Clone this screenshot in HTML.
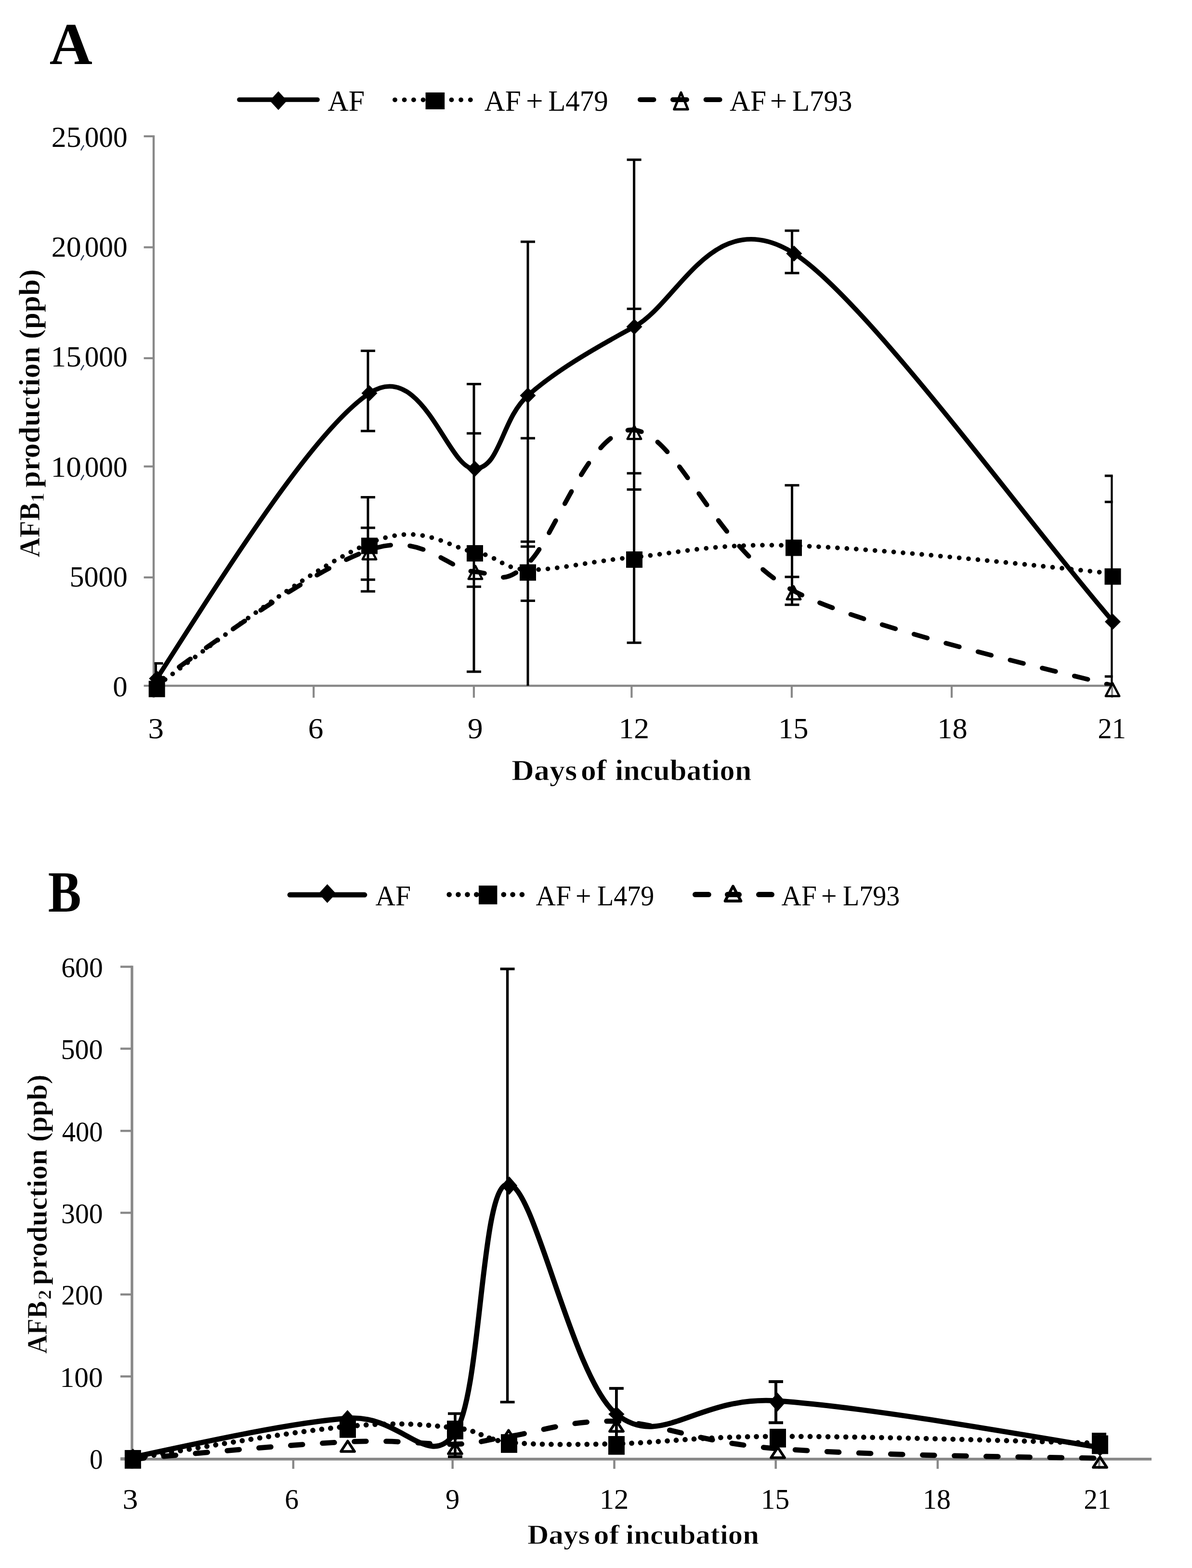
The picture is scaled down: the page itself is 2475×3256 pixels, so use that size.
<!DOCTYPE html><html><head><meta charset="utf-8"><style>html,body{margin:0;padding:0;background:#fff;overflow:hidden;width:2475px;height:3256px;}svg{display:block;}text{font-family:"Liberation Serif",serif;}</style></head><body>
<svg width="2475" height="3256" viewBox="0 0 2475 3256">
<rect width="2475" height="3256" fill="#fff"/>
<defs><clipPath id="clipA"><rect x="320.5" y="200" width="1990" height="1224"/></clipPath><clipPath id="clipB"><rect x="275" y="1950" width="2200" height="1079"/></clipPath></defs>
<text x="102.80" y="133.00" font-size="122.7" font-weight="bold" textLength="89.11" lengthAdjust="spacingAndGlyphs" fill="#000">A</text>
<line x1="497" y1="207" x2="659" y2="207" stroke="#000" stroke-width="9.7" fill="none" stroke-linecap="round" stroke-linejoin="round"/>
<path d="M578,189.5 L596.0,209 L578,228.5 L560.0,209 Z" fill="#000"/>
<text x="680.41" y="230.00" font-size="61.4" textLength="76.76" lengthAdjust="spacingAndGlyphs" fill="#000">AF</text>
<circle cx="820" cy="207.3" r="4.9" fill="#000"/>
<circle cx="839.6" cy="207.3" r="4.9" fill="#000"/>
<circle cx="858.9" cy="207.3" r="4.9" fill="#000"/>
<circle cx="878.6" cy="207.3" r="4.9" fill="#000"/>
<circle cx="937.5" cy="207.3" r="4.9" fill="#000"/>
<circle cx="957.1" cy="207.3" r="4.9" fill="#000"/>
<circle cx="976.8" cy="207.3" r="4.9" fill="#000"/>
<rect x="883.6" y="192.0" width="39.6" height="35" fill="#000"/>
<text x="1005.82" y="229.50" font-size="61.4" textLength="75.93" lengthAdjust="spacingAndGlyphs" fill="#000">AF</text>
<text x="1092.05" y="229.50" font-size="61.4" textLength="35.63" lengthAdjust="spacingAndGlyphs" fill="#000">+</text>
<text x="1138.20" y="229.50" font-size="61.4" textLength="124.62" lengthAdjust="spacingAndGlyphs" fill="#000">L479</text>
<line x1="1329" y1="207" x2="1357.5" y2="207" stroke="#000" stroke-width="10" stroke-linecap="round"/>
<line x1="1397" y1="207" x2="1425.9" y2="207" stroke="#000" stroke-width="10" stroke-linecap="round"/>
<line x1="1465.7" y1="207" x2="1494.6" y2="207" stroke="#000" stroke-width="10" stroke-linecap="round"/>
<path d="M1414.00,192.00 L1428.30,227.00 L1399.70,227.00 Z" fill="none" stroke="#000" stroke-width="5" stroke-linejoin="round"/>
<text x="1515.02" y="229.50" font-size="61.4" textLength="75.93" lengthAdjust="spacingAndGlyphs" fill="#000">AF</text>
<text x="1598.85" y="229.50" font-size="61.4" textLength="35.63" lengthAdjust="spacingAndGlyphs" fill="#000">+</text>
<text x="1645.00" y="229.50" font-size="61.4" textLength="124.50" lengthAdjust="spacingAndGlyphs" fill="#000">L793</text>
<line x1="298.6" y1="283" x2="319" y2="283" stroke="#888888" stroke-width="4.2" stroke-linecap="butt"/>
<line x1="298.6" y1="513.5" x2="319" y2="513.5" stroke="#888888" stroke-width="4.2" stroke-linecap="butt"/>
<line x1="298.6" y1="743.8" x2="319" y2="743.8" stroke="#888888" stroke-width="4.2" stroke-linecap="butt"/>
<line x1="298.6" y1="968.6" x2="319" y2="968.6" stroke="#888888" stroke-width="4.2" stroke-linecap="butt"/>
<line x1="298.6" y1="1199" x2="319" y2="1199" stroke="#888888" stroke-width="4.2" stroke-linecap="butt"/>
<line x1="298.6" y1="1424" x2="319" y2="1424" stroke="#888888" stroke-width="4.2" stroke-linecap="butt"/>
<line x1="319" y1="281" x2="319" y2="1448.8" stroke="#888888" stroke-width="4.4" stroke-linecap="butt"/>
<line x1="317" y1="1424" x2="2310" y2="1424" stroke="#888888" stroke-width="4.4" stroke-linecap="butt"/>
<line x1="651.2" y1="1424" x2="651.2" y2="1448.8" stroke="#888888" stroke-width="4.2" stroke-linecap="butt"/>
<line x1="983.9" y1="1424" x2="983.9" y2="1448.8" stroke="#888888" stroke-width="4.2" stroke-linecap="butt"/>
<line x1="1311.4" y1="1424" x2="1311.4" y2="1448.8" stroke="#888888" stroke-width="4.2" stroke-linecap="butt"/>
<line x1="1643.9" y1="1424" x2="1643.9" y2="1448.8" stroke="#888888" stroke-width="4.2" stroke-linecap="butt"/>
<line x1="1976" y1="1424" x2="1976" y2="1448.8" stroke="#888888" stroke-width="4.2" stroke-linecap="butt"/>
<line x1="2309" y1="1424" x2="2309" y2="1448.8" stroke="#888888" stroke-width="4.2" stroke-linecap="butt"/>
<text x="106.88" y="305.00" font-size="61.5" textLength="61.83" lengthAdjust="spacingAndGlyphs" fill="#000">25</text>
<text x="175.64" y="305.00" font-size="61.5" textLength="89.02" lengthAdjust="spacingAndGlyphs" fill="#000">000</text>
<line x1="173.6" y1="302.5" x2="168.4" y2="311.5" stroke="#2a3550" stroke-width="2.4" stroke-linecap="round"/>
<text x="106.89" y="533.20" font-size="61.5" textLength="61.77" lengthAdjust="spacingAndGlyphs" fill="#000">20</text>
<text x="175.64" y="533.20" font-size="61.5" textLength="89.02" lengthAdjust="spacingAndGlyphs" fill="#000">000</text>
<line x1="173.6" y1="530.7" x2="168.4" y2="539.7" stroke="#2a3550" stroke-width="2.4" stroke-linecap="round"/>
<text x="105.54" y="761.40" font-size="61.5" textLength="63.23" lengthAdjust="spacingAndGlyphs" fill="#000">15</text>
<text x="175.64" y="761.40" font-size="61.5" textLength="89.02" lengthAdjust="spacingAndGlyphs" fill="#000">000</text>
<line x1="173.6" y1="758.9" x2="168.4" y2="767.9" stroke="#2a3550" stroke-width="2.4" stroke-linecap="round"/>
<text x="105.55" y="989.60" font-size="61.5" textLength="63.16" lengthAdjust="spacingAndGlyphs" fill="#000">10</text>
<text x="175.64" y="989.60" font-size="61.5" textLength="89.02" lengthAdjust="spacingAndGlyphs" fill="#000">000</text>
<line x1="173.6" y1="987.1" x2="168.4" y2="996.1" stroke="#2a3550" stroke-width="2.4" stroke-linecap="round"/>
<text x="144.51" y="1217.80" font-size="61.5" textLength="120.18" lengthAdjust="spacingAndGlyphs" fill="#000">5000</text>
<text x="234.28" y="1446.00" font-size="61.5" textLength="30.44" lengthAdjust="spacingAndGlyphs" fill="#000">0</text>
<text x="307.58" y="1533.30" font-size="62" textLength="32.56" lengthAdjust="spacingAndGlyphs" fill="#000">3</text>
<text x="639.67" y="1533.30" font-size="62" textLength="31.71" lengthAdjust="spacingAndGlyphs" fill="#000">6</text>
<text x="970.96" y="1533.30" font-size="62" textLength="31.63" lengthAdjust="spacingAndGlyphs" fill="#000">9</text>
<text x="1284.40" y="1533.30" font-size="62" textLength="63.72" lengthAdjust="spacingAndGlyphs" fill="#000">12</text>
<text x="1615.90" y="1533.30" font-size="62" textLength="62.54" lengthAdjust="spacingAndGlyphs" fill="#000">15</text>
<text x="1946.31" y="1533.30" font-size="62" textLength="62.47" lengthAdjust="spacingAndGlyphs" fill="#000">18</text>
<text x="2279.43" y="1533.30" font-size="62" textLength="58.48" lengthAdjust="spacingAndGlyphs" fill="#000">21</text>
<text x="1062.17" y="1620.00" font-size="62" font-weight="bold" stroke="#fff" stroke-width="0.8" textLength="136.11" lengthAdjust="spacingAndGlyphs" fill="#000">Days</text>
<text x="1205.85" y="1620.00" font-size="62" font-weight="bold" stroke="#fff" stroke-width="0.8" textLength="53.52" lengthAdjust="spacingAndGlyphs" fill="#000">of</text>
<text x="1276.93" y="1620.00" font-size="62" font-weight="bold" stroke="#fff" stroke-width="0.8" textLength="283.31" lengthAdjust="spacingAndGlyphs" fill="#000">incubation</text>
<text transform="translate(81.50,0) rotate(-90)" x="-1157.56" y="0" font-size="62" font-weight="bold" stroke="#fff" stroke-width="0.8" textLength="114.15" lengthAdjust="spacingAndGlyphs" fill="#000">AFB</text>
<text transform="translate(90.60,0) rotate(-90)" x="-1043.28" y="0" font-size="41" font-weight="bold" stroke="#fff" stroke-width="0.8" textLength="20.51" lengthAdjust="spacingAndGlyphs" fill="#000">1</text>
<text transform="translate(81.50,0) rotate(-90)" x="-1012.69" y="0" font-size="62" font-weight="bold" stroke="#fff" stroke-width="0.8" textLength="453.82" lengthAdjust="spacingAndGlyphs" fill="#000">production (ppb)</text>
<g clip-path="url(#clipA)">
<path d="M325.70,1424.00 C491.49,1299.17 657.28,1174.33 767.00,1128.00 C876.72,1081.67 929.17,1136.83 984.00,1146.00 C1038.83,1155.17 1040.50,1181.17 1096.00,1183.00 C1151.50,1184.83 1225.00,1165.33 1317.00,1157.00 C1409.00,1148.67 1482.42,1127.33 1648.00,1133.00 C1813.58,1138.67 2062.04,1164.83 2310.50,1191.00" stroke="#000" stroke-width="9.7" fill="none" stroke-linecap="round" stroke-dasharray="0.01 19.49" stroke-dashoffset="17.59"/>
<path d="M323.00,1420.00 C489.92,1300.42 656.83,1180.83 767.00,1142.00 C877.17,1103.17 929.17,1182.33 984.00,1187.00 C1038.83,1191.67 1040.50,1219.00 1096.00,1170.00 C1151.50,1121.00 1225.00,883.50 1317.00,893.00 C1409.00,902.50 1482.50,1138.50 1648.00,1227.00 C1796.95,1306.65 2243.80,1404.30 2310.00,1424.00" stroke="#000" stroke-width="9.7" fill="none" stroke-linecap="round" stroke-dasharray="28.7 40.092861962162615" stroke-dashoffset="8.67"/>
<path d="M325.80,1409.00 C491.55,1149.05 657.30,889.10 767.00,816.50 C876.70,743.90 929.17,972.60 984.00,973.40 C1038.83,974.20 1040.50,870.43 1096.00,821.30 C1151.50,772.17 1225.33,728.07 1317.00,678.60 C1408.67,629.13 1480.42,422.60 1646.00,524.50 C1795.03,616.21 2137.73,1090.97 2310.50,1290.00" stroke="#000" stroke-width="9.7" fill="none" stroke-linecap="round" stroke-linejoin="round"/>
</g>
<g clip-path="url(#clipA)">
<line x1="323.5" y1="1377.6" x2="323.5" y2="1424" stroke="#000" stroke-width="5"/>
<line x1="308.5" y1="1377.6" x2="338.5" y2="1377.6" stroke="#000" stroke-width="5"/>
</g>
<g>
<line x1="764" y1="728.5" x2="764" y2="895" stroke="#000" stroke-width="5"/>
<line x1="749.0" y1="728.5" x2="779.0" y2="728.5" stroke="#000" stroke-width="5"/>
<line x1="749.0" y1="895" x2="779.0" y2="895" stroke="#000" stroke-width="5"/>
</g>
<g>
<line x1="764" y1="1032.5" x2="764" y2="1228" stroke="#000" stroke-width="5"/>
<line x1="749.0" y1="1032.5" x2="779.0" y2="1032.5" stroke="#000" stroke-width="5"/>
<line x1="749.0" y1="1096" x2="779.0" y2="1096" stroke="#000" stroke-width="5"/>
<line x1="749.0" y1="1203.7" x2="779.0" y2="1203.7" stroke="#000" stroke-width="5"/>
<line x1="749.0" y1="1228" x2="779.0" y2="1228" stroke="#000" stroke-width="5"/>
</g>
<g>
<line x1="984" y1="797.5" x2="984" y2="1394.8" stroke="#000" stroke-width="5"/>
<line x1="969.0" y1="797.5" x2="999.0" y2="797.5" stroke="#000" stroke-width="5"/>
<line x1="969.0" y1="899.9" x2="999.0" y2="899.9" stroke="#000" stroke-width="5"/>
<line x1="969.0" y1="1218.3" x2="999.0" y2="1218.3" stroke="#000" stroke-width="5"/>
<line x1="969.0" y1="1394.8" x2="999.0" y2="1394.8" stroke="#000" stroke-width="5"/>
</g>
<g>
<line x1="1096" y1="502" x2="1096" y2="1424" stroke="#000" stroke-width="5"/>
<line x1="1081.0" y1="502" x2="1111.0" y2="502" stroke="#000" stroke-width="5"/>
<line x1="1081.0" y1="910" x2="1111.0" y2="910" stroke="#000" stroke-width="5"/>
<line x1="1081.0" y1="1124.8" x2="1111.0" y2="1124.8" stroke="#000" stroke-width="5"/>
<line x1="1081.0" y1="1135" x2="1111.0" y2="1135" stroke="#000" stroke-width="5"/>
<line x1="1081.0" y1="1247.5" x2="1111.0" y2="1247.5" stroke="#000" stroke-width="5"/>
</g>
<g>
<line x1="1316.6" y1="331.7" x2="1316.6" y2="1334.7" stroke="#000" stroke-width="5"/>
<line x1="1301.6" y1="331.7" x2="1331.6" y2="331.7" stroke="#000" stroke-width="5"/>
<line x1="1301.6" y1="641.3" x2="1331.6" y2="641.3" stroke="#000" stroke-width="5"/>
<line x1="1301.6" y1="982.8" x2="1331.6" y2="982.8" stroke="#000" stroke-width="5"/>
<line x1="1301.6" y1="1016.5" x2="1331.6" y2="1016.5" stroke="#000" stroke-width="5"/>
<line x1="1301.6" y1="1334.7" x2="1331.6" y2="1334.7" stroke="#000" stroke-width="5"/>
</g>
<g>
<line x1="1644.5" y1="479" x2="1644.5" y2="567" stroke="#000" stroke-width="5"/>
<line x1="1629.5" y1="479" x2="1659.5" y2="479" stroke="#000" stroke-width="5"/>
<line x1="1629.5" y1="567" x2="1659.5" y2="567" stroke="#000" stroke-width="5"/>
</g>
<g>
<line x1="1644.5" y1="1007.7" x2="1644.5" y2="1255.8" stroke="#000" stroke-width="5"/>
<line x1="1629.5" y1="1007.7" x2="1659.5" y2="1007.7" stroke="#000" stroke-width="5"/>
<line x1="1629.5" y1="1198" x2="1659.5" y2="1198" stroke="#000" stroke-width="5"/>
<line x1="1629.5" y1="1255.8" x2="1659.5" y2="1255.8" stroke="#000" stroke-width="5"/>
</g>
<g clip-path="url(#clipA)">
<line x1="2308.8" y1="988" x2="2308.8" y2="1424" stroke="#000" stroke-width="5"/>
<line x1="2293.8" y1="988" x2="2323.8" y2="988" stroke="#000" stroke-width="5"/>
<line x1="2293.8" y1="1042.3" x2="2323.8" y2="1042.3" stroke="#000" stroke-width="5"/>
<line x1="2293.8" y1="1404.8" x2="2323.8" y2="1404.8" stroke="#000" stroke-width="5"/>
</g>
<path d="M325.8,1392.5 L342.3,1409 L325.8,1425.5 L309.3,1409 Z" fill="#000"/>
<path d="M767,800.0 L783.5,816.5 L767,833.0 L750.5,816.5 Z" fill="#000"/>
<path d="M986,956.9 L1002.5,973.4 L986,989.9 L969.5,973.4 Z" fill="#000"/>
<path d="M1096,804.8 L1112.5,821.3 L1096,837.8 L1079.5,821.3 Z" fill="#000"/>
<path d="M1317,662.1 L1333.5,678.6 L1317,695.1 L1300.5,678.6 Z" fill="#000"/>
<path d="M1648.8,510.0 L1665.3,526.5 L1648.8,543.0 L1632.3,526.5 Z" fill="#000"/>
<path d="M2310.5,1274.5 L2327.0,1291 L2310.5,1307.5 L2294.0,1291 Z" fill="#000"/>
<rect x="308.7" y="1413.7" width="34" height="34" fill="#000"/>
<rect x="750.0" y="1116.5" width="34" height="34" fill="#000"/>
<rect x="969.0" y="1132.0" width="34" height="34" fill="#000"/>
<rect x="1079.0" y="1171.8" width="34" height="34" fill="#000"/>
<rect x="1300.0" y="1145.0" width="34" height="34" fill="#000"/>
<rect x="1631.0" y="1120.5" width="34" height="34" fill="#000"/>
<rect x="2293.5" y="1180.2" width="34" height="34" fill="#000"/>
<path d="M767.00,1134.45 L781.20,1161.55 L752.80,1161.55 Z" fill="none" stroke="#000" stroke-width="4.6" stroke-linejoin="round"/>
<path d="M987.00,1175.15 L1001.20,1202.25 L972.80,1202.25 Z" fill="none" stroke="#000" stroke-width="4.6" stroke-linejoin="round"/>
<path d="M1317.00,884.45 L1331.20,911.55 L1302.80,911.55 Z" fill="none" stroke="#000" stroke-width="4.6" stroke-linejoin="round"/>
<path d="M1648.00,1217.45 L1662.20,1244.55 L1633.80,1244.55 Z" fill="none" stroke="#000" stroke-width="4.6" stroke-linejoin="round"/>
<path d="M2310.00,1418.45 L2324.20,1445.55 L2295.80,1445.55 Z" fill="none" stroke="#000" stroke-width="4.6" stroke-linejoin="round"/>
<text x="99.69" y="1892.90" font-size="120" font-weight="bold" textLength="68.89" lengthAdjust="spacingAndGlyphs" fill="#000">B</text>
<line x1="602" y1="1858.2" x2="757" y2="1858.2" stroke="#000" stroke-width="10.7" stroke-linecap="round"/>
<path d="M679.6,1836.0 L697.6,1855.5 L679.6,1875.0 L661.6,1855.5 Z" fill="#000"/>
<text x="779.44" y="1879.60" font-size="60" textLength="73.64" lengthAdjust="spacingAndGlyphs" fill="#000">AF</text>
<circle cx="932.7" cy="1857.6" r="5.3" fill="#000"/>
<circle cx="951.5" cy="1857.6" r="5.3" fill="#000"/>
<circle cx="970.5" cy="1857.6" r="5.3" fill="#000"/>
<circle cx="989.3" cy="1857.6" r="5.3" fill="#000"/>
<circle cx="1045.8" cy="1857.6" r="5.3" fill="#000"/>
<circle cx="1064.6" cy="1857.6" r="5.3" fill="#000"/>
<circle cx="1083.9" cy="1857.6" r="5.3" fill="#000"/>
<rect x="994.0" y="1838.9" width="38.4" height="39" fill="#000"/>
<text x="1112.44" y="1879.80" font-size="60" textLength="73.44" lengthAdjust="spacingAndGlyphs" fill="#000">AF</text>
<text x="1195.02" y="1879.80" font-size="60" textLength="32.60" lengthAdjust="spacingAndGlyphs" fill="#000">+</text>
<text x="1240.09" y="1879.80" font-size="60" textLength="118.31" lengthAdjust="spacingAndGlyphs" fill="#000">L479</text>
<line x1="1443.5" y1="1857.6" x2="1471.3" y2="1857.6" stroke="#000" stroke-width="11" stroke-linecap="round"/>
<line x1="1510.5" y1="1857.6" x2="1534.5" y2="1857.6" stroke="#000" stroke-width="11" stroke-linecap="round"/>
<line x1="1575.5" y1="1857.6" x2="1602.5" y2="1857.6" stroke="#000" stroke-width="11" stroke-linecap="round"/>
<path d="M1522.00,1840.40 L1538.35,1871.00 L1505.65,1871.00 Z" fill="none" stroke="#000" stroke-width="6" stroke-linejoin="round"/>
<text x="1622.44" y="1879.80" font-size="60" textLength="73.44" lengthAdjust="spacingAndGlyphs" fill="#000">AF</text>
<text x="1705.02" y="1879.80" font-size="60" textLength="32.60" lengthAdjust="spacingAndGlyphs" fill="#000">+</text>
<text x="1750.09" y="1879.80" font-size="60" textLength="118.20" lengthAdjust="spacingAndGlyphs" fill="#000">L793</text>
<line x1="250" y1="2007.5" x2="274" y2="2007.5" stroke="#888888" stroke-width="4.5" stroke-linecap="butt"/>
<line x1="250" y1="2177.6" x2="274" y2="2177.6" stroke="#888888" stroke-width="4.5" stroke-linecap="butt"/>
<line x1="250" y1="2348.3" x2="274" y2="2348.3" stroke="#888888" stroke-width="4.5" stroke-linecap="butt"/>
<line x1="250" y1="2518.4" x2="274" y2="2518.4" stroke="#888888" stroke-width="4.5" stroke-linecap="butt"/>
<line x1="250" y1="2688" x2="274" y2="2688" stroke="#888888" stroke-width="4.5" stroke-linecap="butt"/>
<line x1="250" y1="2858.2" x2="274" y2="2858.2" stroke="#888888" stroke-width="4.5" stroke-linecap="butt"/>
<line x1="250" y1="3028.4" x2="274" y2="3028.4" stroke="#888888" stroke-width="4.5" stroke-linecap="butt"/>
<line x1="274" y1="2005.2" x2="274" y2="3050" stroke="#888888" stroke-width="5.4" stroke-linecap="butt"/>
<line x1="250" y1="3029.8" x2="2391" y2="3029.8" stroke="#888888" stroke-width="5.7" stroke-linecap="butt"/>
<line x1="608.9" y1="3029.5" x2="608.9" y2="3050" stroke="#888888" stroke-width="4.5" stroke-linecap="butt"/>
<line x1="939.7" y1="3029.5" x2="939.7" y2="3050" stroke="#888888" stroke-width="4.5" stroke-linecap="butt"/>
<line x1="1275.5" y1="3029.5" x2="1275.5" y2="3050" stroke="#888888" stroke-width="4.5" stroke-linecap="butt"/>
<line x1="1610.7" y1="3029.5" x2="1610.7" y2="3050" stroke="#888888" stroke-width="4.5" stroke-linecap="butt"/>
<line x1="1946.9" y1="3029.5" x2="1946.9" y2="3050" stroke="#888888" stroke-width="4.5" stroke-linecap="butt"/>
<line x1="2282.3" y1="3029.5" x2="2282.3" y2="3050" stroke="#888888" stroke-width="4.5" stroke-linecap="butt"/>
<text x="127.33" y="2028.80" font-size="59.4" textLength="86.37" lengthAdjust="spacingAndGlyphs" fill="#000">600</text>
<text x="126.42" y="2198.90" font-size="59.4" textLength="87.30" lengthAdjust="spacingAndGlyphs" fill="#000">500</text>
<text x="128.69" y="2369.60" font-size="59.4" textLength="84.96" lengthAdjust="spacingAndGlyphs" fill="#000">400</text>
<text x="127.04" y="2539.70" font-size="59.4" textLength="86.67" lengthAdjust="spacingAndGlyphs" fill="#000">300</text>
<text x="127.27" y="2709.30" font-size="59.4" textLength="86.43" lengthAdjust="spacingAndGlyphs" fill="#000">200</text>
<text x="124.57" y="2879.50" font-size="59.4" textLength="89.19" lengthAdjust="spacingAndGlyphs" fill="#000">100</text>
<text x="186.00" y="3049.70" font-size="59.4" textLength="27.61" lengthAdjust="spacingAndGlyphs" fill="#000">0</text>
<text x="254.63" y="3133.30" font-size="60" textLength="32.08" lengthAdjust="spacingAndGlyphs" fill="#000">3</text>
<text x="591.22" y="3133.30" font-size="60" textLength="28.91" lengthAdjust="spacingAndGlyphs" fill="#000">6</text>
<text x="925.11" y="3133.30" font-size="60" textLength="29.29" lengthAdjust="spacingAndGlyphs" fill="#000">9</text>
<text x="1244.67" y="3133.30" font-size="60" textLength="60.68" lengthAdjust="spacingAndGlyphs" fill="#000">12</text>
<text x="1579.77" y="3133.30" font-size="60" textLength="59.56" lengthAdjust="spacingAndGlyphs" fill="#000">15</text>
<text x="1916.10" y="3133.30" font-size="60" textLength="58.01" lengthAdjust="spacingAndGlyphs" fill="#000">18</text>
<text x="2250.51" y="3133.30" font-size="60" textLength="56.70" lengthAdjust="spacingAndGlyphs" fill="#000">21</text>
<text x="1094.92" y="3206.00" font-size="58" font-weight="bold" stroke="#fff" stroke-width="0.8" textLength="129.88" lengthAdjust="spacingAndGlyphs" fill="#000">Days</text>
<text x="1232.55" y="3206.00" font-size="58" font-weight="bold" stroke="#fff" stroke-width="0.8" textLength="53.52" lengthAdjust="spacingAndGlyphs" fill="#000">of</text>
<text x="1299.37" y="3206.00" font-size="58" font-weight="bold" stroke="#fff" stroke-width="0.8" textLength="276.55" lengthAdjust="spacingAndGlyphs" fill="#000">incubation</text>
<text transform="translate(96.60,0) rotate(-90)" x="-2811.34" y="0" font-size="59" font-weight="bold" stroke="#fff" stroke-width="0.8" textLength="109.87" lengthAdjust="spacingAndGlyphs" fill="#000">AFB</text>
<text transform="translate(106.00,0) rotate(-90)" x="-2698.72" y="0" font-size="39" font-weight="bold" stroke="#fff" stroke-width="0.8" textLength="20.48" lengthAdjust="spacingAndGlyphs" fill="#000">2</text>
<text transform="translate(96.60,0) rotate(-90)" x="-2668.76" y="0" font-size="59" font-weight="bold" stroke="#fff" stroke-width="0.8" textLength="437.49" lengthAdjust="spacingAndGlyphs" fill="#000">production (ppb)</text>
<path d="M276.00,3029.00 C443.25,3000.83 610.50,2972.67 722.00,2962.00 C833.50,2951.33 889.17,2959.50 945.00,2965.00 C1000.83,2970.50 1001.17,2989.50 1057.00,2995.00 C1112.83,3000.50 1187.00,3000.05 1280.00,2998.00 C1373.00,2995.95 1447.67,2982.87 1615.00,2982.70 C1782.33,2982.53 2033.17,2989.77 2284.00,2997.00" stroke="#000" stroke-width="10.8" fill="none" stroke-linecap="round" stroke-dasharray="0.01 18.53787861857584" stroke-dashoffset="11.42"/>
<path d="M276.00,3030.00 C443.25,3014.58 610.50,2999.17 722.00,2994.00 C833.50,2988.83 889.33,3000.83 945.00,2999.00 C1000.67,2997.17 1000.17,2990.92 1056.00,2983.00 C1111.83,2975.08 1187.17,2947.33 1280.00,2951.50 C1372.83,2955.67 1445.67,2995.25 1613.00,3008.00 C1780.33,3020.75 2032.17,3024.38 2284.00,3028.00" stroke="#000" stroke-width="10.8" fill="none" stroke-linecap="round" stroke-dasharray="24.9 41.21169099394371" stroke-dashoffset="1.89"/>
<path d="M276.00,3026.00 C443.25,2989.75 610.50,2953.50 722.00,2945.00 C833.50,2936.50 889.75,3056.00 945.00,2975.00 C1000.25,2894.00 997.67,2465.40 1053.50,2459.00 C1109.33,2452.60 1186.58,2861.60 1280.00,2936.60 C1373.42,3011.60 1446.67,2897.43 1614.00,2909.00 C1781.33,2920.57 2032.67,2963.28 2284.00,3006.00" stroke="#000" stroke-width="10.8" fill="none" stroke-linecap="round" stroke-linejoin="round"/>
<g>
<line x1="945" y1="2935.4" x2="945" y2="3025" stroke="#000" stroke-width="5.6"/>
<line x1="930.0" y1="2935.4" x2="960.0" y2="2935.4" stroke="#000" stroke-width="5.6"/>
<line x1="930.0" y1="3025" x2="960.0" y2="3025" stroke="#000" stroke-width="5.6"/>
</g>
<g>
<line x1="1053.6" y1="2012" x2="1053.6" y2="2911.5" stroke="#000" stroke-width="5.4"/>
<line x1="1038.6" y1="2012" x2="1068.6" y2="2012" stroke="#000" stroke-width="5.4"/>
<line x1="1038.6" y1="2911.5" x2="1068.6" y2="2911.5" stroke="#000" stroke-width="5.4"/>
</g>
<g>
<line x1="1279.9" y1="2883" x2="1279.9" y2="2987" stroke="#000" stroke-width="5.8"/>
<line x1="1264.9" y1="2883" x2="1294.9" y2="2883" stroke="#000" stroke-width="5.8"/>
</g>
<g>
<line x1="1611" y1="2869" x2="1611" y2="2954.3" stroke="#000" stroke-width="6"/>
<line x1="1596.0" y1="2869" x2="1626.0" y2="2869" stroke="#000" stroke-width="6"/>
<line x1="1596.0" y1="2954.3" x2="1626.0" y2="2954.3" stroke="#000" stroke-width="6"/>
</g>
<g>
<line x1="2282" y1="2978" x2="2282" y2="3000" stroke="#000" stroke-width="5.8"/>
<line x1="2267.0" y1="2978" x2="2297.0" y2="2978" stroke="#000" stroke-width="5.8"/>
</g>
<path d="M276,3008.0 L293.0,3026 L276,3044.0 L259.0,3026 Z" fill="#000"/>
<path d="M721.5,2928.0 L738.5,2947 L721.5,2966.0 L704.5,2947 Z" fill="#000"/>
<path d="M945,2957.0 L962.0,2975 L945,2993.0 L928.0,2975 Z" fill="#000"/>
<path d="M1057.6,2443.0 L1074.1,2462 L1057.6,2481.0 L1041.1,2462 Z" fill="#000"/>
<path d="M1279.9,2920.6 L1296.5500000000002,2936.6 L1279.9,2952.6 L1263.25,2936.6 Z" fill="#000"/>
<path d="M1614.3,2892.05 L1631.7,2911.5 L1614.3,2930.95 L1596.8999999999999,2911.5 Z" fill="#000"/>
<path d="M2284,2988.0 L2301.0,3006 L2284,3024.0 L2267.0,3006 Z" fill="#000"/>
<rect x="258.9" y="3011.0" width="34" height="38.8" fill="#000"/>
<rect x="705.0" y="2946.9" width="34" height="38.8" fill="#000"/>
<rect x="928.0" y="2950.0" width="34" height="38.8" fill="#000"/>
<rect x="1040.0" y="2978.1" width="34" height="38.8" fill="#000"/>
<rect x="1263.0" y="2982.0" width="34" height="38.8" fill="#000"/>
<rect x="1598.0" y="2966.9" width="34" height="38.8" fill="#000"/>
<rect x="2267.0" y="2980.6" width="34" height="38.8" fill="#000"/>
<path d="M276.00,3024.20 L290.10,3045.80 L261.90,3045.80 Z" fill="none" stroke="#000" stroke-width="5.5" stroke-linejoin="round"/>
<path d="M722.00,2992.50 L736.10,3014.10 L707.90,3014.10 Z" fill="none" stroke="#000" stroke-width="5.5" stroke-linejoin="round"/>
<path d="M945.00,2997.20 L959.10,3018.80 L930.90,3018.80 Z" fill="none" stroke="#000" stroke-width="5.5" stroke-linejoin="round"/>
<path d="M1056.00,2970.20 L1070.10,2991.80 L1041.90,2991.80 Z" fill="none" stroke="#000" stroke-width="5.5" stroke-linejoin="round"/>
<path d="M1280.00,2950.70 L1294.10,2972.30 L1265.90,2972.30 Z" fill="none" stroke="#000" stroke-width="5.5" stroke-linejoin="round"/>
<path d="M1615.00,3005.50 L1629.10,3027.10 L1600.90,3027.10 Z" fill="none" stroke="#000" stroke-width="5.5" stroke-linejoin="round"/>
<path d="M2284.00,3025.50 L2298.10,3047.10 L2269.90,3047.10 Z" fill="none" stroke="#000" stroke-width="5.5" stroke-linejoin="round"/>
</svg></body></html>
